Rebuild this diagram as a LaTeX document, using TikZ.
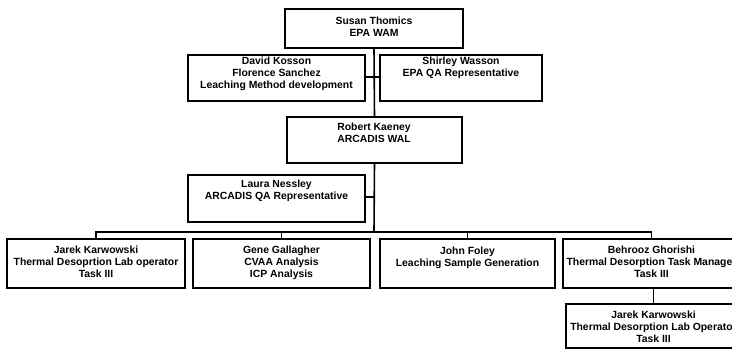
\documentclass[tikz,border=0pt]{standalone}
\usepackage{fontspec}
\setmainfont{Liberation Sans}
\begin{document}
\begin{tikzpicture}[x=1pt,y=-1pt,
  box/.style={draw,line width=1.6pt,rectangle,inner sep=0pt,outer sep=0pt,anchor=north west},
  txt/.style={anchor=north,inner sep=0pt,align=center,font=\bfseries\fontsize{10.4}{12}\selectfont},
  conn/.style={line width=1.6pt}]
\useasboundingbox (0,0) rectangle (732,352);
\clip (0,0) rectangle (732,352);
% boxes
\node[box,minimum width=178pt,minimum height=39pt] (susan) at (285,9) {};
\node[box,minimum width=177pt,minimum height=46pt] (david) at (188,55) {};
\node[box,minimum width=162pt,minimum height=46pt] (shirley) at (380,55) {};
\node[box,minimum width=175pt,minimum height=46pt] (robert) at (287,117) {};
\node[box,minimum width=177pt,minimum height=47pt] (laura) at (188,175) {};
\node[box,minimum width=178pt,minimum height=49pt] (jarekA) at (7,239) {};
\node[box,minimum width=177pt,minimum height=49pt] (gene) at (193,239) {};
\node[box,minimum width=175pt,minimum height=49pt] (john) at (380,239) {};
\node[box,minimum width=177pt,minimum height=49pt] (behrooz) at (563,239) {};
\node[box,minimum width=175pt,minimum height=44pt] (jarekB) at (566,304) {};
% texts
\node[txt] (susanT) at (374,16.5) {Susan Thomics\\EPA WAM};
\node[txt] (davidT) at (276.5,56.5) {David Kosson\\Florence Sanchez\\Leaching Method development};
\node[txt] (shirleyT) at (461,56.5) {Shirley Wasson\\EPA QA Representative};
\node[txt] (robertT) at (374,122.5) {Robert Kaeney\\ARCADIS WAL};
\node[txt] (lauraT) at (276.5,180) {Laura Nessley\\ARCADIS QA Representative};
\node[txt] (jarekAT) at (96,245.5) {Jarek Karwowski\\Thermal Desoprtion Lab operator\\Task III};
\node[txt] (geneT) at (281.5,245.5) {Gene Gallagher\\CVAA Analysis\\ICP Analysis};
\node[txt] (johnT) at (467.5,246.5) {John Foley\\Leaching Sample Generation};
\node[txt] (behroozT) at (651.5,245.5) {Behrooz Ghorishi\\Thermal Desorption Task Manager\\Task III};
\node[txt] (jarekBT) at (653.5,310.5) {Jarek Karwowski\\Thermal Desorption Lab Operator\\Task III};
% connectors
\coordinate (bus) at (374,232);
\draw[conn] (susan.south) -- (robert.north);
\draw[conn] (david.east |- 0,77) -- (shirley.west |- 0,77);
\draw[conn] (robert.south) -- (bus);
\draw[conn] (laura.east |- 0,197) -- (374,197);
\draw[conn] (jarekA.north) |- (bus) -| (behrooz.north);
\draw[conn] (gene.north) -- (gene.north |- bus);
\draw[conn] (john.north) -- (john.north |- bus);
\draw[conn] (behrooz.south -| jarekB.north) -- (jarekB.north);
\end{tikzpicture}
\end{document}
